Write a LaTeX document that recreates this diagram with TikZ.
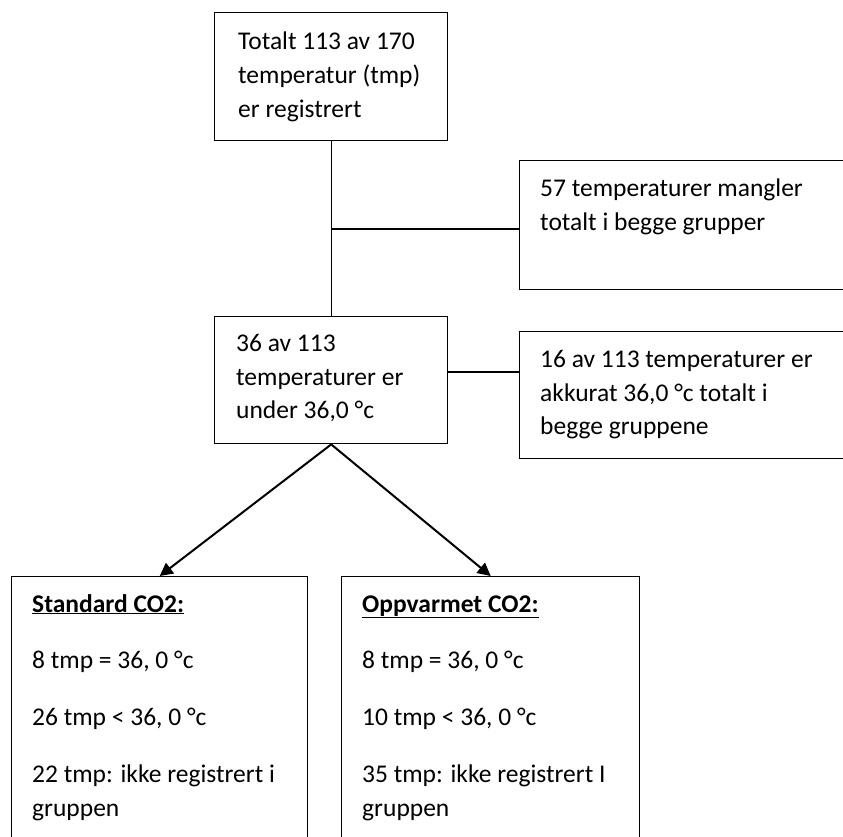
\documentclass[tikz,border=0pt]{standalone}
\usepackage{fontspec}
\setmainfont{Carlito}
\usetikzlibrary{arrows.meta}
\tikzset{
  box/.style={draw=black, line width=1.4pt, rectangle, inner sep=0pt, anchor=north west},
  txt/.style={anchor=base west, inner sep=0pt, font=\fontsize{25.5}{34}\selectfont},
  link/.style={draw=black, line width=1.4pt},
  arr/.style={draw=black, line width=2pt, -{Triangle[length=13pt,width=13pt]}}
}
\begin{document}
\begin{tikzpicture}[x=1pt,y=-1pt]
\useasboundingbox (0,0) rectangle (843,836);
\clip (0,0) rectangle (843,836);
% boxes
\node[box, minimum width=233pt, minimum height=128pt] (top) at (214,12) {};
\node[box, minimum width=340pt, minimum height=129pt] (r1) at (519,160) {};
\node[box, minimum width=233pt, minimum height=127pt] (mid) at (214,316) {};
\node[box, minimum width=340pt, minimum height=127pt] (r2) at (519,331) {};
\node[box, minimum width=296pt, minimum height=280pt] (b1) at (11,576) {};
\node[box, minimum width=298pt, minimum height=280pt] (b2) at (341,576) {};
% texts
\node[txt] (t1) at (238,49) {Totalt 113 av 170};
\node[txt] (t2) at (238,83) {temperatur (tmp)};
\node[txt] (t3) at (238,117) {er registrert};
\node[txt] (r1a) at (540,196) {57 temperaturer mangler};
\node[txt] (r1b) at (540,230) {totalt i begge grupper};
\node[txt] (m1) at (236,351) {36 av 113};
\node[txt] (m2) at (236,385) {temperaturer er};
\node[txt] (m3) at (236,418) {under 36,0 °c};
\node[txt] (r2a) at (540,367) {16 av 113 temperaturer er};
\node[txt] (r2b) at (540,401) {akkurat 36,0 °c totalt i};
\node[txt] (r2c) at (540,434) {begge gruppene};
\node[txt] (s0) at (32,612) {\bfseries\underline{Standard CO2:}};
\node[txt] (s1) at (32,668) {8 tmp = 36, 0 °c};
\node[txt] (s2) at (32,725) {26 tmp < 36, 0 °c};
\node[txt] (s3) at (32,782) {22 tmp: ikke registrert i};
\node[txt] (s4) at (32,816) {gruppen};
\node[txt] (o0) at (362,612) {\bfseries\underline{Oppvarmet CO2:}};
\node[txt] (o1) at (362,668) {8 tmp = 36, 0 °c};
\node[txt] (o2) at (362,725) {10 tmp < 36, 0 °c};
\node[txt] (o3) at (362,782) {35 tmp: ikke registrert I};
\node[txt] (o4) at (362,816) {gruppen};
% connectors
\coordinate (j1) at (331,229);
\coordinate (j2) at (447,372);
\draw[link] (top.south) -- (mid.north);
\draw[link] (j1) -- (j1 -| r1.west);
\draw[link] (j2) -- (j2 -| r2.west);
\draw[arr] (mid.south) -- (b1.north);
\draw[arr] (mid.south) -- (b2.north);
\end{tikzpicture}
\end{document}
